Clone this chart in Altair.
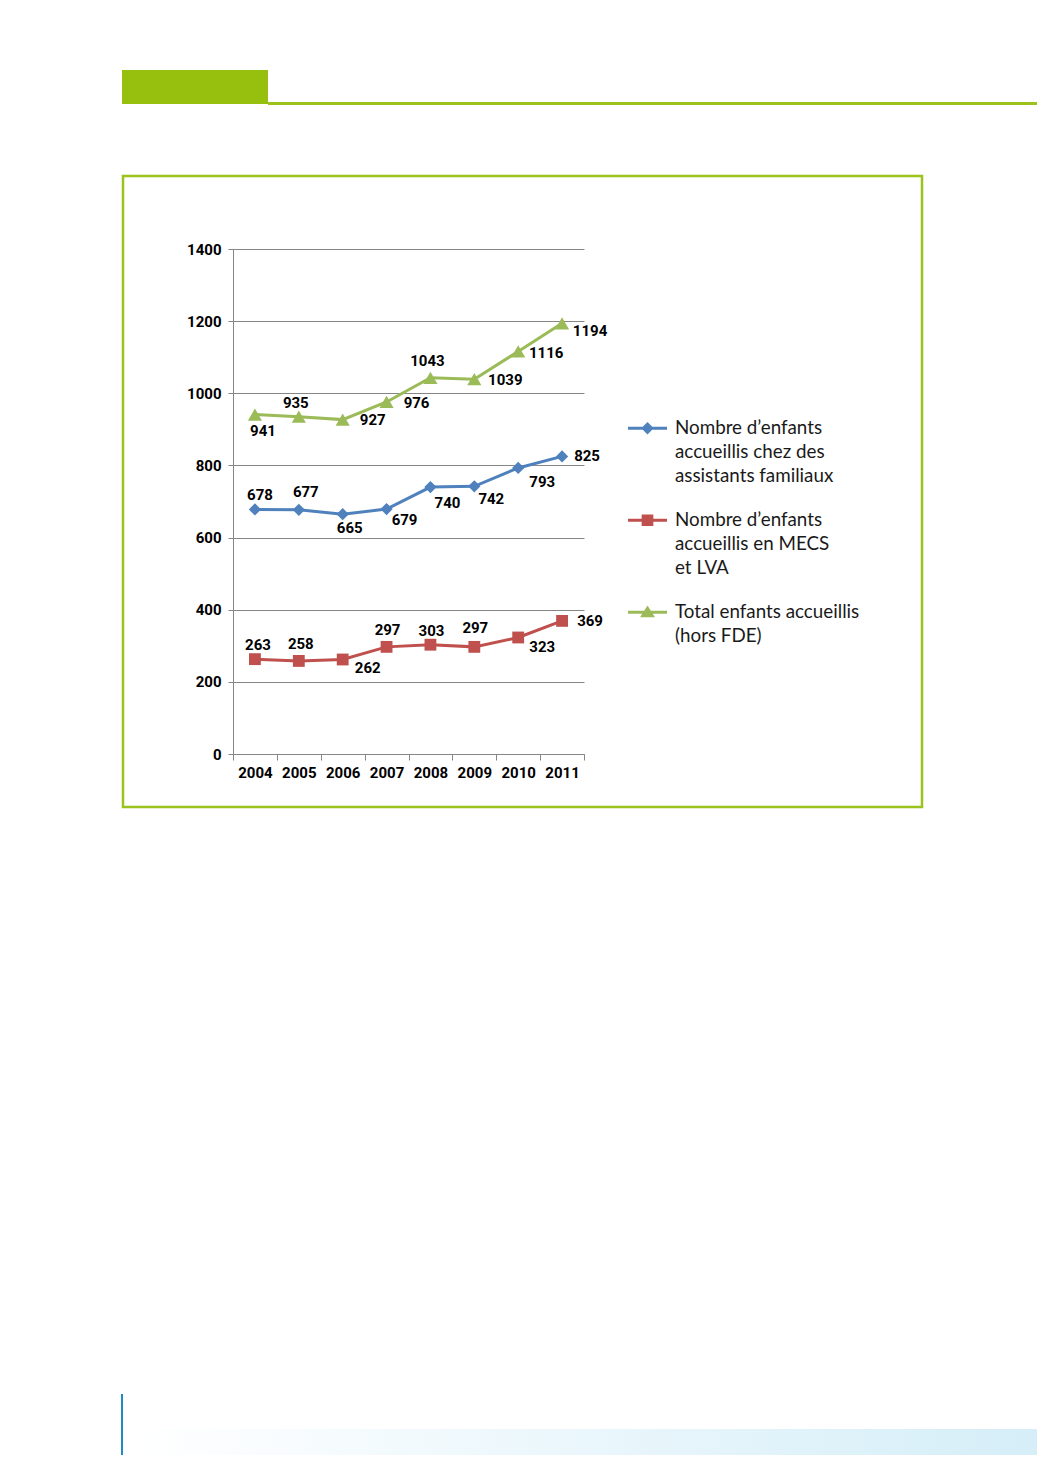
import altair as alt
import pandas as pd

# ---- data ----
years = ["2004", "2005", "2006", "2007", "2008", "2009", "2010", "2011"]
assistants = [678, 677, 665, 679, 740, 742, 793, 825]
mecs_lva = [263, 258, 262, 297, 303, 297, 323, 369]
total = [941, 935, 927, 976, 1043, 1039, 1116, 1194]
series_names = [
    "Nombre d’enfants|accueillis chez des|assistants familiaux",
    "Nombre d’enfants|accueillis en MECS|et LVA",
    "Total enfants accueillis|(hors FDE)",
]
series_values = [assistants, mecs_lva, total]

# ---- styling / layout ----
colors = ["#4F81BD", "#C0504D", "#9BBB59"]
shapes = ["diamond", "square", "triangle-up"]
sizes = [150, 140, 200]
# label offsets (px) relative to each point: (dx, dy)
label_offsets = [
    [(5, -14), (7, -18), (7, 14), (18, 11), (17, 16), (17, 13), (24, 14), (25, 0)],
    [(3, -14), (2, -17), (25, 9), (1, -17), (1, -14), (1, -19), (24, 10), (28, 0)],
    [(8, 16), (-3, -14), (30, 0), (30, 1), (-3, -17), (31, 1), (28, 2), (28, 8)],
]
W, H = 351, 505
YMAX = 1400
px_per_x = W / len(years)
px_per_y = H / YMAX

rows = []
for s, name in enumerate(series_names):
    for i, y in enumerate(years):
        v = series_values[s][i]
        dx, dy = label_offsets[s][i]
        rows.append({
            "year": y, "series": name, "value": v,
            "lx": i + dx / px_per_x, "ly": v - dy / px_per_y,
        })
df = pd.DataFrame(rows)

num_font = "Roboto"
txt_font = "Lato"

color_scale = alt.Scale(domain=series_names, range=colors)
yenc = alt.Y("value:Q", scale=alt.Scale(domain=[0, YMAX], nice=False),
             axis=alt.Axis(values=[0, 200, 400, 600, 800, 1000, 1200, 1400], format="d", title=None,
                           grid=True, gridColor="#868686", domainColor="#868686",
                           tickColor="#868686", tickSize=5, labelPadding=7,
                           labelFont=num_font, labelFontSize=15, labelFontWeight="bold",
                           labelColor="#000000"))
xenc = alt.X("year:O", scale=alt.Scale(type="band", paddingInner=0, paddingOuter=0),
             axis=alt.Axis(title=None, labelAngle=0, tickBand="extent", domainColor="#868686",
                           tickColor="#868686", tickSize=6, labelPadding=5, bandPosition=0.5,
                           labelFont=num_font, labelFontSize=15, labelFontWeight="bold",
                           labelColor="#000000"))

# legend symbols: a short line with the marker, shifted down to sit on the first label line
SH = 0.5
def sh(v):
    return "%.3f" % (v + SH)
line_part = "M-1,%sL1,%sL1,%sL-1,%sZ" % (sh(-0.08), sh(-0.08), sh(0.08), sh(0.08))
legend_paths = [
    line_part + " M0,%sL0.32,%sL0,%sL-0.32,%sZ" % (sh(-0.32), sh(0), sh(0.32), sh(0)),
    line_part + " M-0.3,%sL0.3,%sL0.3,%sL-0.3,%sZ" % (sh(-0.3), sh(-0.3), sh(0.3), sh(0.3)),
    line_part + " M0,%sL0.38,%sL-0.38,%sZ" % (sh(-0.34), sh(0.26), sh(0.26)),
]

legend = alt.Legend(
    title=None, orient="none", legendX=395, legendY=150, padding=0,
    symbolSize=1521, symbolStrokeWidth=0, symbolOpacity=1, labelOffset=8,
    labelFont=txt_font, labelFontSize=18.8, labelColor="#1a1a1a", labelLimit=400,
    labelBaseline="top", labelExpr="split(datum.label, '|')", rowPadding=5,
)

base = alt.Chart(df)
legend_layer = base.transform_filter("false").mark_point(filled=True, opacity=1).encode(
    x=xenc, y=yenc,
    color=alt.Color("series:N", scale=color_scale, legend=legend),
    shape=alt.Shape("series:N", scale=alt.Scale(domain=series_names, range=legend_paths), legend=legend),
)
lines = base.mark_line(strokeWidth=3).encode(
    x=xenc, y=yenc,
    color=alt.Color("series:N", scale=color_scale, legend=legend),
)
point_layers = []
for name, shp, sz in zip(series_names, shapes, sizes):
    point_layers.append(
        base.transform_filter(alt.datum.series == name).mark_point(
            filled=True, opacity=1, shape=shp, size=sz
        ).encode(
            x=xenc, y=yenc,
            color=alt.Color("series:N", scale=color_scale, legend=legend),
        )
    )
main = alt.layer(legend_layer, lines, *point_layers)

labels = base.mark_text(font=num_font, fontSize=15, fontWeight="bold", color="#000000",
                        align="center", baseline="middle").encode(
    x=alt.X("lx:Q", scale=alt.Scale(domain=[-0.5, len(years) - 0.5], nice=False, zero=False), axis=None),
    y=alt.Y("ly:Q"),
    text=alt.Text("value:Q"),
)

one = alt.Data(values=[{"k": 1}])
green = "#97BF0D"
top_bar = alt.Chart(one).mark_rect(color=green).encode(
    x=alt.value(-111), x2=alt.value(35), y=alt.value(-179), y2=alt.value(-145))
top_line = alt.Chart(one).mark_rect(color="#9CC31C").encode(
    x=alt.value(35), x2=alt.value(812), y=alt.value(-147), y2=alt.value(-144))
box = alt.Chart(one).mark_rect(fill="transparent", stroke="#9CC31C", strokeWidth=2.5).encode(
    x=alt.value(-110), x2=alt.value(689), y=alt.value(-73), y2=alt.value(558))
vline = alt.Chart(one).mark_rect(color="#1E8BC3").encode(
    x=alt.value(-112), x2=alt.value(-110), y=alt.value(1145), y2=alt.value(1214))
grad = alt.Chart(one).mark_rect(
    fill=alt.LinearGradient(gradient="linear", x1=0, x2=1, y1=0, y2=0,
                            stops=[alt.GradientStop(color="#ffffff", offset=0),
                                   alt.GradientStop(color="#d5eef8", offset=1)])
).encode(x=alt.value(-103), x2=alt.value(812), y=alt.value(1180), y2=alt.value(1214))

chart = alt.layer(box, top_bar, top_line, vline, grad, main, labels).resolve_scale(
    x="independent"
).properties(
    width=W, height=H,
    autosize=alt.AutoSizeParams(type="none"),
    padding={"left": 225, "top": 241, "right": 453, "bottom": 701},
).configure(
    style={"guide-label": {"lineHeight": 24}},
    view=alt.ViewConfig(stroke=None),
)

chart.save("out.html", embed_options={"renderer": "svg", "actions": False})
